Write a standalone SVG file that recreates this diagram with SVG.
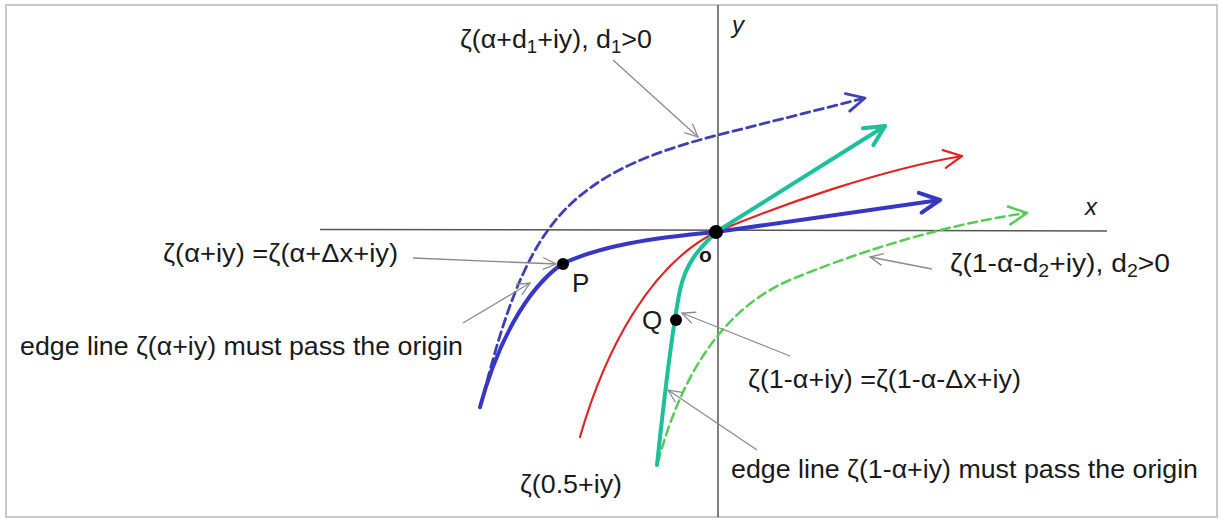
<svg xmlns="http://www.w3.org/2000/svg" width="1219" height="519" viewBox="0 0 1219 519">
<style>
.t{font-family:"Liberation Sans",Arial,sans-serif;font-size:26px;fill:#1a1a1a}
.ax{stroke:#555;stroke-width:1.5;fill:none}
.ld{stroke:#8a8a8a;stroke-width:1.3;fill:none;marker-end:url(#mg)}
.c{fill:none;stroke-linecap:round;stroke-linejoin:round}
.sub{font-size:18px}
</style>
<defs>
<marker id="mg" markerUnits="userSpaceOnUse" markerWidth="30" markerHeight="30" refX="0" refY="0" orient="auto" overflow="visible"><path d="M-13,-6 L0,0 L-13,6" fill="none" stroke="#8a8a8a" stroke-width="1.3"/></marker>
<marker id="mb" markerUnits="userSpaceOnUse" markerWidth="40" markerHeight="40" refX="0" refY="0" orient="auto" overflow="visible"><path d="M-20,-10 L0,0 L-20,10" fill="none" stroke="#3737c4" stroke-width="4" stroke-linecap="round" stroke-linejoin="round"/></marker>
<marker id="mbd" markerUnits="userSpaceOnUse" markerWidth="40" markerHeight="40" refX="0" refY="0" orient="auto" overflow="visible"><path d="M-18,-9 L0,0 L-18,9" fill="none" stroke="#4040b4" stroke-width="2.8" stroke-linecap="round" stroke-linejoin="round"/></marker>
<marker id="mr" markerUnits="userSpaceOnUse" markerWidth="40" markerHeight="40" refX="0" refY="0" orient="auto" overflow="visible"><path d="M-18,-9 L0,0 L-18,9" fill="none" stroke="#e02424" stroke-width="2.2" stroke-linecap="round" stroke-linejoin="round"/></marker>
<marker id="mt" markerUnits="userSpaceOnUse" markerWidth="40" markerHeight="40" refX="0" refY="0" orient="auto" overflow="visible"><path d="M-20,-10 L0,0 L-20,10" fill="none" stroke="#1ec09c" stroke-width="4" stroke-linecap="round" stroke-linejoin="round"/></marker>
<marker id="mgd" markerUnits="userSpaceOnUse" markerWidth="40" markerHeight="40" refX="0" refY="0" orient="auto" overflow="visible"><path d="M-18,-9 L0,0 L-18,9" fill="none" stroke="#55cc55" stroke-width="2.5" stroke-linecap="round" stroke-linejoin="round"/></marker>
</defs>
<rect x="6" y="5" width="1211" height="512" fill="#fff" stroke="#c8c8c8" stroke-width="2"/>
<g id="axes">
<line class="ax" x1="320" y1="229.5" x2="1107" y2="231"/>
<line class="ax" x1="718" y1="5" x2="718" y2="517"/>
<text class="t" x="732" y="33" font-style="italic" style="font-size:24px">y</text>
<text class="t" x="1085" y="215" font-style="italic" style="font-size:24px">x</text>
</g>
<g id="connectors">
<path id="curve-blue-dashed" class="c" d="M480,408 C500,330 520,260 560,215 C600,170 660,150 718,135 L865,98" stroke="#4040b4" stroke-width="2.8" stroke-dasharray="9,5" marker-end="url(#mbd)"/>
<path id="curve-green-dashed" class="c" d="M658,462 C680,380 720,310 790,280 C850,255 940,225 1027,213" stroke="#55cc55" stroke-width="2.5" stroke-dasharray="9,5" marker-end="url(#mgd)"/>
<path id="curve-red" class="c" d="M580,437 C605,350 650,265 716,232 C780,205 880,170 962,156" stroke="#e02424" stroke-width="2.2" marker-end="url(#mr)"/>
<path id="curve-blue" class="c" d="M480,407 C497,345 525,290 562,264 C600,246 650,238 716,232 L940,200" stroke="#3737c4" stroke-width="4" marker-end="url(#mb)"/>
<path id="curve-teal" class="c" d="M657,465 C665,390 672,330 680,290 C686,262 700,248 716,232 L885,126" stroke="#1ec09c" stroke-width="4" marker-end="url(#mt)"/>
<line class="ld" x1="613" y1="60" x2="698" y2="137"/>
<line class="ld" x1="413" y1="258" x2="556" y2="264"/>
<line class="ld" x1="463" y1="323" x2="530" y2="283"/>
<line class="ld" x1="932" y1="269" x2="870" y2="257"/>
<line class="ld" x1="790" y1="356" x2="682" y2="313"/>
<line class="ld" x1="757" y1="450" x2="668" y2="390"/>
</g>
<g id="origin"><circle cx="716" cy="232" r="7" fill="#000"/><text class="t" x="699" y="262" style="font-size:21px;font-weight:bold">o</text></g>
<g id="P"><circle cx="563" cy="264" r="6" fill="#000"/><text class="t" x="572" y="292">P</text></g>
<g id="Q"><circle cx="676" cy="320" r="6" fill="#000"/><text class="t" x="642" y="329">Q</text></g>
<g id="label-d1"><text class="t" x="460" y="48" textLength="192" lengthAdjust="spacingAndGlyphs">ζ(α+d<tspan class="sub" dy="5">1</tspan><tspan dy="-5">+iy), d</tspan><tspan class="sub" dy="5">1</tspan><tspan dy="-5">&gt;0</tspan></text></g>
<g id="label-alpha"><text class="t" x="163" y="262" textLength="235" lengthAdjust="spacingAndGlyphs">ζ(α+iy) =ζ(α+Δx+iy)</text></g>
<g id="label-edge-alpha"><text class="t" x="20" y="355" textLength="443" lengthAdjust="spacingAndGlyphs">edge line ζ(α+iy) must pass the origin</text></g>
<g id="label-d2"><text class="t" x="950" y="272" textLength="220" lengthAdjust="spacingAndGlyphs">ζ(1-α-d<tspan class="sub" dy="5">2</tspan><tspan dy="-5">+iy), d</tspan><tspan class="sub" dy="5">2</tspan><tspan dy="-5">&gt;0</tspan></text></g>
<g id="label-1alpha"><text class="t" x="748" y="388" textLength="273" lengthAdjust="spacingAndGlyphs">ζ(1-α+iy) =ζ(1-α-Δx+iy)</text></g>
<g id="label-edge-1alpha"><text class="t" x="731" y="478" textLength="467" lengthAdjust="spacingAndGlyphs">edge line ζ(1-α+iy) must pass the origin</text></g>
<g id="label-half"><text class="t" x="520" y="493" textLength="102" lengthAdjust="spacingAndGlyphs">ζ(0.5+iy)</text></g>
</svg>
